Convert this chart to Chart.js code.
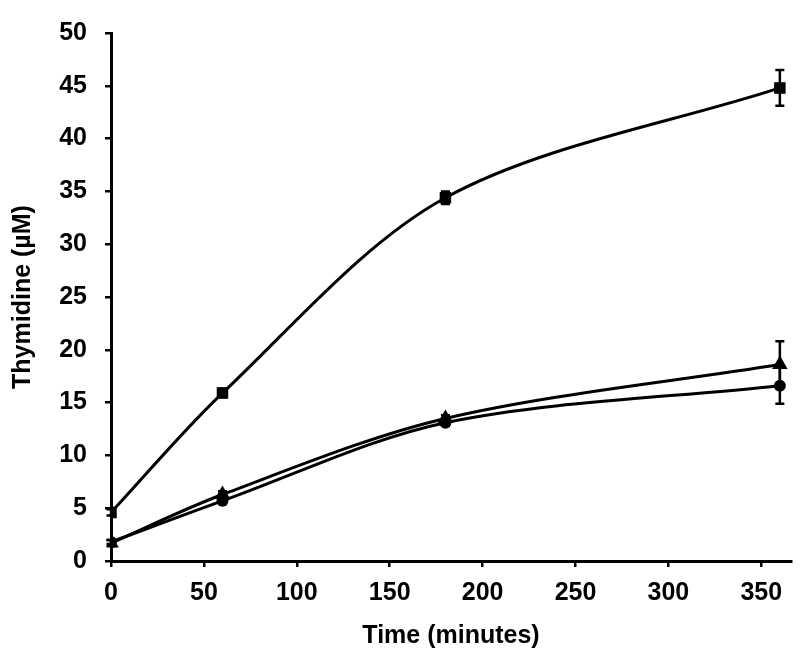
<!DOCTYPE html>
<html>
<head>
<meta charset="utf-8">
<script src="https://cdn.jsdelivr.net/npm/chart.js@4"></script>
<style>
  html, body { margin: 0; padding: 0; background: #fff; }
  #wrap { width: 800px; height: 659px; }
</style>
</head>
<body>
<div id="wrap"><canvas id="thyChart" width="800" height="659"></canvas></div>
<script>
// time points (minutes)
const times = [0, 60, 180, 360];

// thymidine (uM) per series, with error bars
const squareVals = [4.6, 15.9, 34.4, 44.8];
const squareErr = [0.3, 0.4, 0.6, 1.7];
const triangleVals = [1.7, 6.3, 13.5, 18.6];
const triangleErr = [0.3, 0.3, 0.3, 2.2];
const circleVals = [1.8, 5.7, 13.1, 16.6];
const circleErr = [0.2, 0.3, 0.3, 1.7];

function toPoints(vals) {
    return times.map(function(t, i) { return { x: t, y: vals[i] }; });
}

// draws vertical error bars with caps
const errorBars = {
    id: 'errorBars',
    afterDatasetsDraw: function(chart) {
        const ctx = chart.ctx;
        const xs = chart.scales.x, ys = chart.scales.y;
        ctx.save();
        ctx.strokeStyle = '#000';
        ctx.lineWidth = 2.5;
        chart.data.datasets.forEach(function(ds) {
            ds.data.forEach(function(p, i) {
                const e = ds.errors[i];
                const px = xs.getPixelForValue(p.x);
                const top = ys.getPixelForValue(p.y + e);
                const bot = ys.getPixelForValue(p.y - e);
                ctx.beginPath();
                ctx.moveTo(px, top); ctx.lineTo(px, bot);
                ctx.moveTo(px - 4.5, top); ctx.lineTo(px + 4.5, top);
                ctx.moveTo(px - 4.5, bot); ctx.lineTo(px + 4.5, bot);
                ctx.stroke();
            });
        });
        ctx.restore();
    }
};

document.addEventListener('DOMContentLoaded', function() {
    const font = { family: '"Liberation Sans", Arial, sans-serif', weight: 'bold', size: 25 };
    const common = {
        borderColor: '#000',
        backgroundColor: '#000',
        pointBorderColor: '#000',
        pointBackgroundColor: '#000',
        borderWidth: 3,
        tension: 0.32,
        fill: false
    };

    new Chart(document.getElementById('thyChart'), {
        type: 'line',
        data: {
            datasets: [
                Object.assign({ data: toPoints(squareVals), errors: squareErr, pointStyle: 'rect', pointRadius: 6 }, common),
                Object.assign({ data: toPoints(triangleVals), errors: triangleErr, pointStyle: 'triangle', pointRadius: 6 }, common),
                Object.assign({ data: toPoints(circleVals), errors: circleErr, pointStyle: 'circle', pointRadius: 4.5 }, common)
            ]
        },
        options: {
            responsive: false,
            animation: false,
            layout: { padding: { left: 0, right: 7, top: 14, bottom: 0 } },
            plugins: {
                legend: { display: false },
                tooltip: { enabled: false }
            },
            scales: {
                x: {
                    type: 'linear',
                    min: 0,
                    max: 366,
                    afterFit: function(scale) { scale.height = 98; },
                    ticks: { stepSize: 50, includeBounds: false, color: '#000', font: font, padding: 11, maxRotation: 0 },
                    grid: { drawOnChartArea: false, drawTicks: true, tickLength: 6, color: '#000', lineWidth: 2.5 },
                    border: { color: '#000', width: 3 },
                    title: { display: true, text: 'Time (minutes)', color: '#000', font: font, padding: { top: 1, bottom: 8 } }
                },
                y: {
                    min: 0,
                    max: 50,
                    afterFit: function(scale) { scale.width = 111; },
                    ticks: { stepSize: 5, color: '#000', font: font, padding: 18 },
                    grid: { drawOnChartArea: false, drawTicks: true, tickLength: 6, color: '#000', lineWidth: 2.5 },
                    border: { color: '#000', width: 3 },
                    title: { display: true, text: 'Thymidine (µM)', color: '#000', font: font, padding: { top: 8, bottom: 0 } }
                }
            }
        },
        plugins: [errorBars]
    });
});
</script>
</body>
</html>
